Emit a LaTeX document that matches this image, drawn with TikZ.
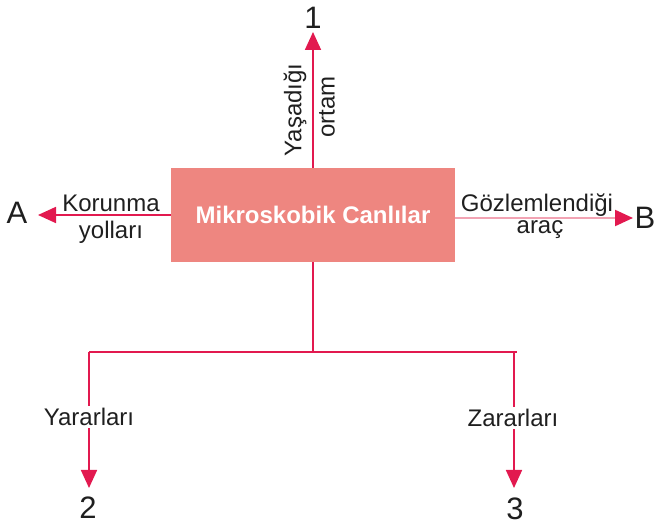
\documentclass[tikz,border=0pt]{standalone}
\usepackage{fontspec}
\setmainfont{Liberation Sans}
\usetikzlibrary{arrows.meta}
\definecolor{lineRed}{HTML}{E2194F}
\definecolor{boxFill}{HTML}{EE8680}
\definecolor{palePink}{HTML}{F2A3B3}
\begin{document}
\begin{tikzpicture}[x=1pt,y=-1pt,
  lbl/.style={font=\fontsize{24}{26}\selectfont, text=black!88, inner sep=1pt},
  big/.style={font=\fontsize{31}{33}\selectfont, text=black!88, inner sep=0pt},
  conn/.style={draw=lineRed, line width=1.8pt},
  arr/.style={conn, -{Triangle[length=18pt,width=16pt]}}]
\useasboundingbox (0,0) rectangle (657,526);
\node[fill=boxFill, minimum width=284pt, minimum height=94pt, inner sep=0pt, text=white,
      font=\bfseries\fontsize{24}{26}\selectfont] (box) at (313,215) {Mikroskobik Canlılar};
% end labels
\node[big] (n1) at (313,18) {1};
\node[big] (nA) at (17,213) {A};
\node[big] (nB) at (645,218) {B};
\node[big] (n2) at (88,508) {2};
\node[big] (n3) at (515,509) {3};
% arrow tips
\coordinate (t1) at (313,32);
\coordinate (tA) at (38,215);
\coordinate (tB) at (633,218);
\coordinate (t2) at (89,488);
\coordinate (t3) at (514,488);
% up arrow
\draw[arr] (box.north) -- (t1);
\node[lbl, rotate=90] (yas) at (295,110) {Yaşadığı};
\node[lbl, rotate=90] (ort) at (327,107) {ortam};
% left arrow
\draw[arr] (box.west) -- (tA);
\node[lbl] (kor) at (111,203) {Korunma};
\node[lbl] (yol) at (111,232) {yolları};
% right arrow
\draw[draw=palePink, line width=2.2pt, -{Triangle[length=18pt,width=16pt,color=lineRed]}] (box.east |- tB) -- (tB);
\node[lbl] (goz) at (537,205) {Gözlemlendiği};
\node[lbl] (ara) at (540,230) {araç};
% bottom branches
\coordinate (j) at (313,352);
\coordinate (jl) at (89,352);
\coordinate (jr) at (514,352);
\coordinate (jre) at (517,352);
\draw[conn] (box.south) -- (j);
\draw[conn] (jl) -- (jre);
\node[lbl, fill=white, inner sep=2pt] (yar) at (89,417) {Yararları};
\node[lbl, fill=white, inner sep=2pt] (zar) at (513,418) {Zararları};
\draw[conn] (jl) -- (jl |- yar.north);
\draw[arr] (t2 |- yar.south) -- (t2);
\draw[conn] (jr) -- (jr |- zar.north);
\draw[arr] (t3 |- zar.south) -- (t3);
\end{tikzpicture}
\end{document}
